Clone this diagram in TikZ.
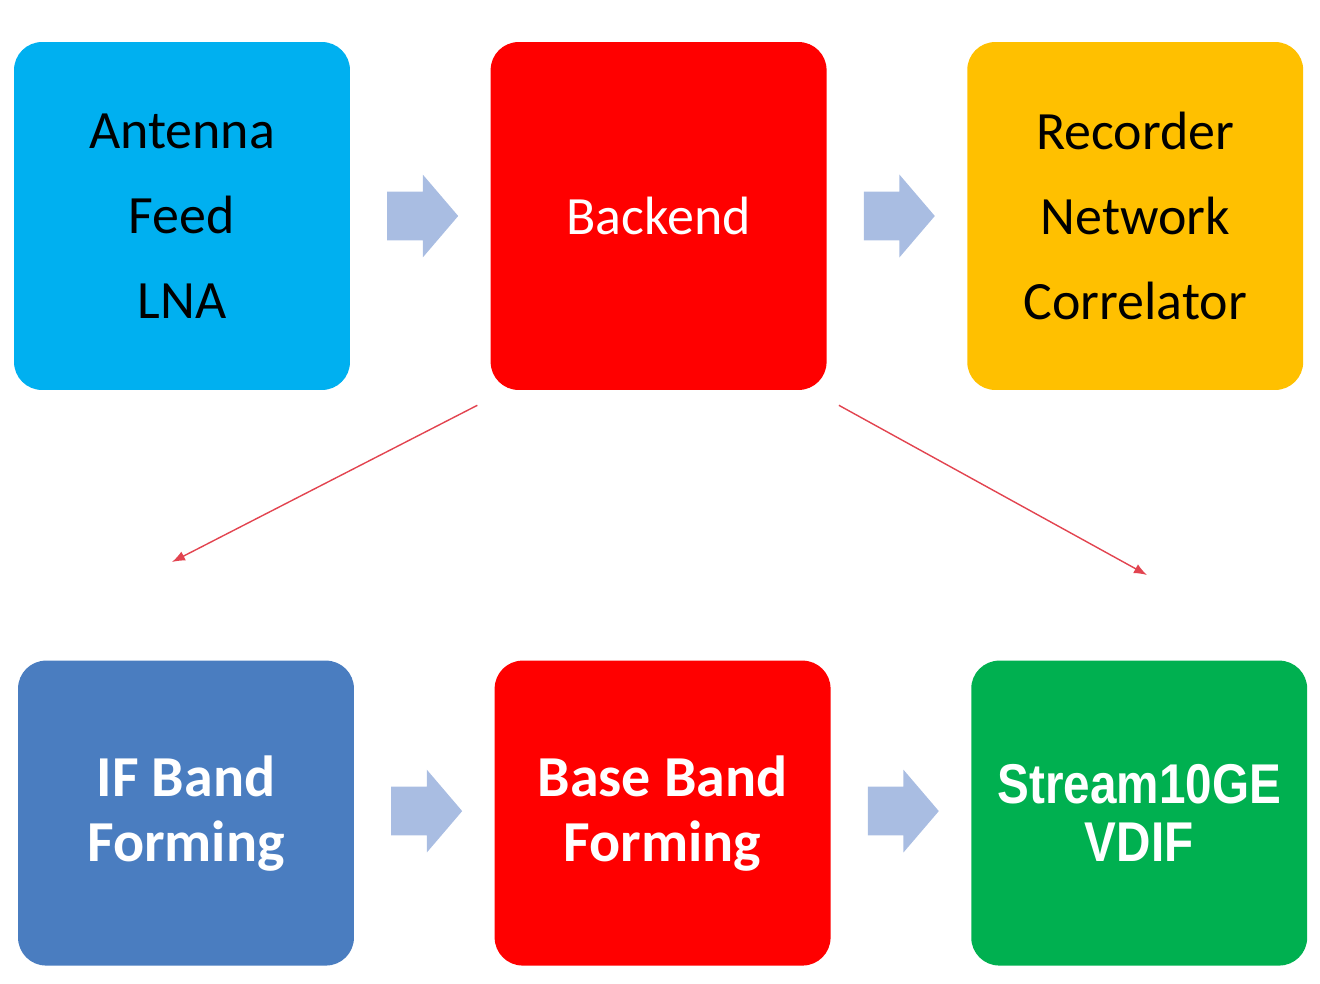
\documentclass[tikz,border=0pt]{standalone}
\usepackage{fontspec}
\setmainfont{Carlito}
\newfontfamily\vdiffont[FakeStretch=0.85]{Liberation Sans}
\usepackage{tikz}
\usetikzlibrary{arrows.meta,positioning,shapes.arrows,calc}

\definecolor{skyblue}{HTML}{00B0F0}
\definecolor{brightred}{HTML}{FF0000}
\definecolor{amber}{HTML}{FFC000}
\definecolor{steelblue}{HTML}{4A7DC0}
\definecolor{leafgreen}{HTML}{00B050}
\definecolor{paleblue}{HTML}{A9BDE2}
\definecolor{linkred}{HTML}{E24450}

\begin{document}
\begin{tikzpicture}[x=0.02cm, y=-0.02cm, node distance=5.4cm and 2.8cm,
    block/.style={rectangle, rounded corners=0.56cm, minimum width=6.72cm, inner sep=0pt, align=center},
    topblock/.style={block, minimum height=6.96cm, font=\fontsize{30.7}{48.4}\selectfont},
    lowblock/.style={block, minimum height=6.1cm, text=white, font=\fontsize{33}{37}\selectfont\bfseries},
    flow/.style={single arrow, fill=paleblue, minimum height=1.42cm, inner xsep=0pt, inner ysep=0.48cm,
        single arrow head extend=0.34cm, single arrow tip angle=99, xshift=-0.16cm},
    link/.style={-{Latex[length=0.26cm, width=0.2cm]}, draw=linkred, line width=0.8pt}]

    \useasboundingbox (0,0) rectangle (1320,984);

    % signal chain, upper row
    \node[topblock, fill=skyblue] (antenna) at (182,216) {Antenna\\Feed\\LNA};
    \node[topblock, fill=brightred, text=white, right=of antenna] (backend) {Backend};
    \node[topblock, fill=amber, right=of backend] (recorder) {Recorder\\Network\\Correlator};

    % backend internals, lower row
    \node[lowblock, fill=steelblue, below=of antenna, xshift=0.08cm] (ifband) {IF Band\\Forming};
    \node[lowblock, fill=brightred, right=of ifband] (baseband) {Base Band\\Forming};
    \node[lowblock, fill=leafgreen, right=of baseband,
        font=\vdiffont\fontsize{31.9}{33}\selectfont\bfseries] (stream) {Stream10GE\\VDIF};

    \node[flow] (f1) at ($(antenna.east)!0.5!(backend.west)$) {};
    \node[flow] (f2) at ($(backend.east)!0.5!(recorder.west)$) {};
    \node[flow] (f3) at ($(ifband.east)!0.5!(baseband.west)+(0,-2)$) {};
    \node[flow] (f4) at ($(baseband.east)!0.5!(stream.west)+(0,-2)$) {};

    % expansion of the backend
    \coordinate (bl) at ($(backend.south west)+(-13,15)$);
    \coordinate (br) at ($(backend.south east)+(12,15)$);
    \coordinate (ifin) at (172,562);
    \coordinate (strin) at (1147,575);
    \draw[link] (bl) -- (ifin);
    \draw[link] (br) -- (strin);
\end{tikzpicture}
\end{document}
